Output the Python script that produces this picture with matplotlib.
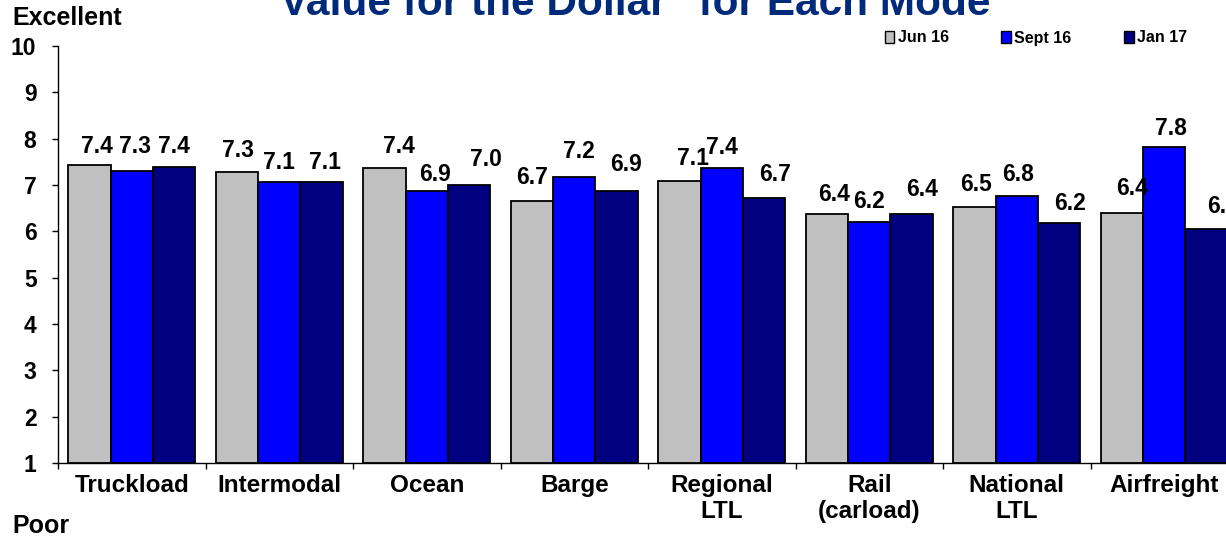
import matplotlib
matplotlib.use('Agg')
import matplotlib.pyplot as plt
import numpy as np
from matplotlib.patches import Patch

plt.rcParams['font.family'] = ['Liberation Sans', 'DejaVu Sans']
plt.rcParams['font.weight'] = 'bold'

modes = ['Truckload', 'Intermodal', 'Ocean', 'Barge', 'Regional\nLTL',
         'Rail\n(carload)', 'National\nLTL', 'Airfreight']
series = ['Jun 16', 'Sept 16', 'Jan 17']
jun16 = [7.43, 7.27, 7.36, 6.66, 7.08, 6.37, 6.52, 6.39]
sep16 = [7.30, 7.06, 6.86, 7.17, 7.36, 6.21, 6.76, 7.82]
jan17 = [7.38, 7.06, 7.01, 6.88, 6.73, 6.37, 6.19, 6.04]
colors = ['#C0C0C0', '#0000FF', '#000080']

# label nudges in pixels (dx, dy) relative to bar top centre, like the original
lab_dx = [[8, 3, 0], [1, 0, 3], [15, 8, 17], [0, 5, 9],
          [14, 0, 11], [7, 0, 10], [2, 1, 11], [10, 7, 16]]
lab_dy = [[19, 25, 21], [22, 20, 20], [22, 17, 25], [23, 26, 26],
          [23, 21, 23], [20, 20, 25], [23, 22, 19], [25, 19, 23]]

fig = plt.figure(figsize=(12.26, 5.36), dpi=100)
ax = fig.add_axes([58/1226, 73/536, 1180/1226, 417/536])

w = 0.288
x = np.arange(len(modes)) + 0.5
for k, vals in enumerate([jun16, sep16, jan17]):
    pos = x + (k - 1) * w
    ax.bar(pos, np.array(vals) - 1, bottom=1, width=w, color=colors[k],
           edgecolor='black', linewidth=1.3, label=series[k])
    for i, v in enumerate(vals):
        ax.annotate(f'{v:.1f}', (pos[i], v), xytext=(lab_dx[i][k], lab_dy[i][k]),
                    textcoords='offset pixels', ha='center', va='center',
                    fontsize=16.5, fontweight='bold', annotation_clip=False)

ax.set_xlim(0, len(modes))
ax.set_ylim(1, 10)
ax.set_yticks(range(1, 11))
ax.tick_params(axis='y', direction='out', length=4.5, width=1, pad=11,
               labelsize=16.5)
ax.set_xticks(x)
ax.set_xticklabels(modes, fontsize=17.5, linespacing=1.15)
ax.tick_params(axis='x', which='major', length=0, pad=8)
ax.set_xticks(np.arange(len(modes) + 1), minor=True)
ax.tick_params(axis='x', which='minor', direction='out', length=4.5, width=1)
for lab in ax.get_xticklabels() + ax.get_yticklabels():
    lab.set_fontweight('bold')
ax.spines['top'].set_visible(False)
ax.spines['right'].set_visible(False)
ax.spines['left'].set_linewidth(1)
ax.spines['bottom'].set_linewidth(1)

fig.text(625/1226, 1 - 15/536, '"Value for the Dollar" for Each Mode',
         ha='center', va='baseline', fontsize=30.5, fontweight='bold',
         color='#002A7A')
fig.text(12/1226, 1 - 18/536, 'Excellent', ha='left', va='center',
         fontsize=18, fontweight='bold')
fig.text(12/1226, 1 - 526/536, 'Poor', ha='left', va='center',
         fontsize=18, fontweight='bold')

handles = [Patch(facecolor=c, edgecolor='black', linewidth=1) for c in colors]
fig.legend(handles, series, loc='center', ncol=3,
           bbox_to_anchor=(1036/1226, 1 - 38/536), frameon=False,
           prop={'size': 11.5, 'weight': 'bold'}, handlelength=0.6,
           handleheight=0.7, handletextpad=0.2, columnspacing=3.3)

fig.savefig('out.png', dpi=100)
